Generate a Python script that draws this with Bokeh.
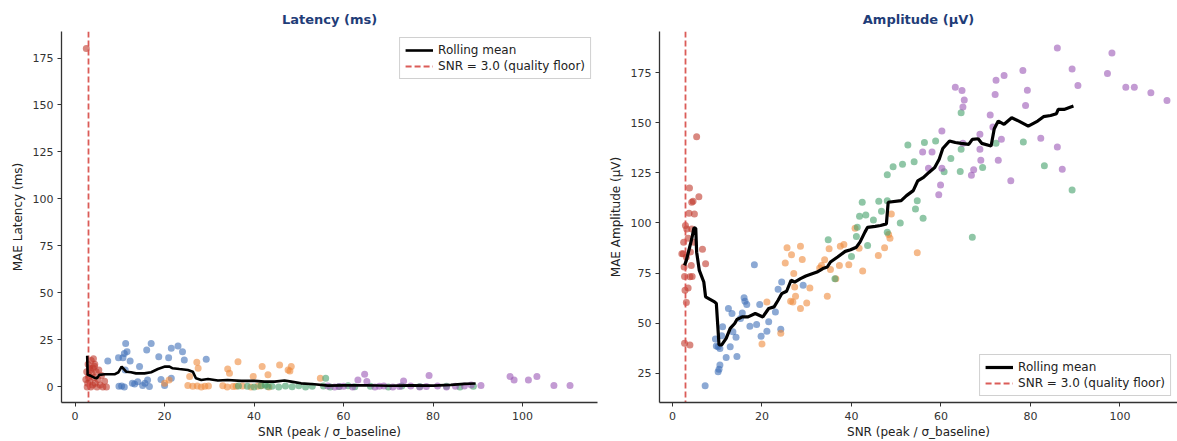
from bokeh.plotting import figure
from bokeh.layouts import row
from bokeh.models import Range1d, FixedTicker, Legend, LegendItem
from bokeh.embed import file_html
from bokeh.resources import INLINE

# ---------------- data ----------------
SNR_FLOOR = 3.0
x_ticks = [0, 20, 40, 60, 80, 100]
lat_y_ticks = [0, 25, 50, 75, 100, 125, 150, 175]
amp_y_ticks = [25, 50, 75, 100, 125, 150, 175]

# Latency panel
lat_red_x = [2.5, 2.4, 2.6, 2.7, 2.8, 2.9, 3.1, 3.2, 3.3, 3.4, 3.5, 3.6, 3.8, 3.9, 4.0, 4.1, 4.2, 4.4, 4.5, 4.7, 4.9, 5.1, 5.3, 5.6, 5.9, 6.2, 6.6, 7.0, 3.0, 4.3]
lat_red_y = [180, 4, 8, 0, 2, 12, 6, 10, 3, 9, 0, 14, 7, 1, 10, 15, 5, 12, 2, 8, 0, 4, 9, 1, 6, 0, 3, 0, 5, 11]
lat_blue_x = [7.3, 9.7, 10.7, 11.3, 11.6, 11.0, 12.3, 16.0, 17.0, 18.7, 20.9, 21.5, 23.0, 24.0, 24.4, 29.3, 14.4, 11.2, 19.2, 21.5, 20.0, 9.8, 10.4, 11.0, 12.8, 13.3, 14.0, 15.1, 15.6, 16.2, 16.6]
lat_blue_y = [13.8, 15.5, 15.5, 23.1, 18.7, 17.8, 13.8, 19.6, 23.1, 16.1, 15.5, 20.5, 21.7, 18.7, 14.3, 14.7, 10.8, 9.0, 4.0, 4.6, 0.7, 0.3, 0.5, 0.0, 2.0, 1.5, 2.8, 0.8, 1.9, 3.7, 0.2]
lat_orange_x = [27.2, 27.5, 34.1, 34.5, 36.4, 41.8, 39.8, 43.1, 45.7, 47.6, 48.3, 54.8, 25.6, 25.2, 26.3, 27.3, 28.2, 29.0, 33.0, 34.0, 35.3, 37.4, 39.3, 40.8, 41.6, 43.3, 21.0, 20.0, 29.8, 48.0, 36.0]
lat_orange_y = [13.1, 9.9, 9.5, 7.2, 13.4, 10.8, 5.5, 6.4, 11.7, 9.0, 10.8, 4.6, 5.5, 0.7, 0.3, 0.5, 0.0, 0.4, 0.6, 0.0, 0.2, 0.5, 0.0, 0.3, 0.6, 0.0, 3.7, 2.0, 0.5, 8.5, 0.3]
lat_green_x = [56.0, 36.5, 38.5, 40.0, 41.5, 43.0, 44.0, 45.5, 47.0, 48.5, 50.0, 51.5, 53.0, 55.5, 57.0, 59.0, 61.0, 62.5, 66.0, 70.0, 73.0, 77.0, 83.0, 86.0, 89.0, 42.5]
lat_green_y = [4.6, 0.5, 0.3, 0.0, 0.6, 0.2, 0.4, 0.0, 0.5, 0.1, 0.6, 0.0, 0.3, 0.5, 0.0, 0.2, 0.6, 0.1, 0.3, 0.0, 0.5, 0.2, 0.4, 0.0, 0.3, 1.0]
lat_purple_x = [56.5, 58.0, 60.0, 62.0, 63.2, 64.7, 65.2, 67.0, 69.0, 71.0, 72.5, 73.4, 75.0, 77.0, 78.5, 79.1, 81.0, 83.0, 85.0, 87.0, 88.5, 90.7, 97.2, 98.1, 101.3, 103.2, 107.0, 110.6, 59.0, 68.0]
lat_purple_y = [0.5, 0.0, 0.3, 0.0, 3.7, 6.7, 2.9, 0.0, 0.5, 0.0, 0.2, 3.2, 0.5, 0.0, 0.2, 6.0, 0.5, 0.0, 0.3, 0.5, 1.0, 0.7, 5.5, 3.7, 3.7, 5.5, 0.7, 0.7, 0.2, 0.4]
lat_roll_x = [2.7, 2.8, 3.4, 4.3, 4.9, 5.4, 6.6, 8.8, 9.7, 10.4, 11.4, 12.5, 13.6, 15.5, 17.0, 18.5, 20.1, 21.1, 21.8, 23.3, 25.2, 26.3, 27.0, 28.2, 29.7, 31.9, 34.1, 37.1, 40.1, 42.3, 44.6, 46.8, 48.3, 50.5, 53.5, 56.5, 60, 65, 70, 75, 80, 84, 87, 89.5]
lat_roll_y = [16.6, 6.4, 6.0, 4.9, 4.6, 6.4, 6.7, 6.7, 7.8, 10.8, 8.1, 7.8, 7.2, 7.2, 7.8, 9.5, 10.8, 10.8, 9.9, 9.5, 9.0, 8.1, 4.6, 3.7, 4.2, 3.4, 3.7, 3.2, 3.2, 2.8, 2.8, 3.4, 2.8, 1.9, 1.4, 0.7, 0.8, 0.9, 0.6, 0.8, 0.7, 1.1, 1.6, 1.8]

# Amplitude panel
amp_red_x = [3.8, 4.3, 5.9, 5.4, 3.7, 4.9, 2.9, 3.2, 2.5, 3.5, 2.4, 4.8, 6.7, 7.4, 4.2, 2.7, 3.9, 4.4, 2.8, 3.5, 3.1, 2.7, 3.9, 2.1, 3.1, 4.0, 4.3, 4.6, 2.6]
amp_red_y = [117.4, 110.3, 113.1, 143.0, 104.8, 104.5, 98.7, 97.0, 90.4, 92.4, 84.6, 90.4, 86.8, 79.6, 78.8, 73.3, 73.2, 73.3, 66.4, 67.5, 60.3, 39.9, 39.1, 84.6, 83.0, 85.5, 97.0, 110.8, 78.0]
amp_blue_x = [7.3, 10.2, 10.4, 10.6, 12.0, 14.4, 9.6, 9.8, 10.2, 10.6, 11.0, 11.2, 12.9, 13.5, 14.2, 12.5, 13.3, 15.6, 16.0, 16.2, 16.6, 17.3, 15.2, 18.3, 18.8, 19.5, 19.8, 21.1, 21.5, 23.0, 23.6, 24.4, 24.2, 29.2]
amp_blue_y = [18.7, 25.8, 27.0, 29.1, 32.8, 33.3, 42.1, 38.6, 38.2, 37.4, 43.7, 48.2, 38.2, 45.7, 42.9, 57.3, 54.8, 55.1, 62.7, 60.9, 59.3, 48.5, 52.3, 79.1, 49.3, 59.3, 43.5, 46.0, 50.7, 55.6, 66.9, 70.5, 46.9, 68.9]
amp_orange_x = [25.6, 25.2, 26.6, 26.4, 27.1, 27.3, 27.5, 26.9, 28.6, 29.0, 28.6, 30.0, 30.7, 21.1, 20.0, 24.2, 32.9, 33.3, 34.0, 34.6, 35.0, 35.3, 36.5, 37.3, 37.5, 38.3, 39.4, 40.8, 41.7, 42.5, 46.0, 47.4, 48.3, 48.6, 48.9, 54.7]
amp_orange_y = [87.6, 80.0, 84.1, 60.9, 74.7, 68.0, 63.4, 60.6, 88.4, 81.8, 57.3, 60.1, 67.5, 60.6, 39.6, 44.9, 77.5, 78.8, 81.6, 63.4, 87.1, 76.8, 72.2, 78.8, 88.4, 89.2, 79.1, 97.3, 87.4, 76.0, 83.8, 87.6, 94.2, 92.4, 104.5, 85.1]
amp_green_x = [34.8, 36.3, 40.0, 41.1, 41.3, 41.8, 42.4, 43.2, 43.6, 44.9, 46.1, 46.7, 48.0, 48.0, 48.0, 49.3, 50.9, 51.4, 52.6, 54.0, 54.3, 54.7, 56.0, 56.3, 58.8, 60.7, 62.2, 64.3, 64.5, 64.5, 67.0, 69.3, 72.3, 78.4, 83.1, 89.3]
amp_green_y = [91.6, 72.2, 83.3, 93.2, 97.8, 103.3, 110.3, 104.0, 88.7, 101.5, 110.8, 105.8, 124.0, 111.1, 95.4, 128.0, 100.0, 129.3, 138.9, 130.5, 107.0, 111.1, 102.3, 140.1, 140.9, 125.5, 132.1, 125.7, 155.0, 136.8, 92.9, 127.6, 139.7, 140.4, 128.5, 116.4]
amp_purple_x = [55.9, 58.0, 57.2, 60.2, 60.2, 59.9, 59.5, 63.2, 64.7, 65.2, 64.9, 64.9, 66.8, 67.3, 68.7, 68.9, 68.7, 71.0, 71.6, 72.1, 72.3, 72.8, 73.5, 74.1, 75.6, 78.3, 78.9, 79.3, 82.3, 86.0, 86.0, 87.1, 89.3, 90.6, 97.2, 98.2, 101.3, 103.2, 106.9, 110.5]
amp_purple_y = [135.4, 135.4, 127.3, 145.9, 127.3, 118.9, 114.1, 167.7, 166.1, 161.3, 157.8, 139.7, 123.8, 126.5, 136.8, 131.3, 144.2, 153.8, 147.8, 164.1, 171.2, 131.3, 141.7, 173.5, 121.0, 176.0, 158.6, 166.2, 142.2, 187.3, 137.9, 126.8, 176.8, 168.5, 174.5, 184.8, 167.7, 167.7, 164.9, 161.1]
amp_roll_x = [2.7, 3.1, 4.3, 4.8, 5.2, 5.4, 6.0, 7.0, 7.4, 9.4, 9.8, 10.4, 11.0, 12.0, 12.9, 13.9, 14.4, 15.6, 16.9, 18.5, 20.2, 21.5, 22.7, 23.6, 24.4, 25.5, 26.5, 27.3, 28.6, 29.8, 32.3, 33.6, 34.6, 35.3, 36.9, 38.6, 39.8, 41.1, 41.9, 43.0, 43.6, 45.3, 46.5, 47.8, 48.2, 51.1, 52.3, 53.8, 54.8, 56.1, 57.3, 58.6, 59.6, 60.4, 61.9, 63.2, 64.5, 66.2, 67.0, 68.3, 69.1, 71.2, 71.9, 72.8, 74.1, 75.8, 77.4, 79.5, 81.6, 82.9, 84.5, 85.8, 86.2, 87.5, 89.6]
amp_roll_y = [78.8, 81.3, 92.0, 97.5, 97.3, 85.4, 76.3, 70.5, 63.1, 60.6, 59.8, 39.1, 39.1, 42.4, 47.4, 49.8, 51.8, 53.1, 53.1, 54.8, 53.1, 57.3, 58.1, 61.4, 64.7, 65.9, 71.4, 70.5, 72.2, 73.5, 75.5, 77.2, 78.0, 80.5, 83.0, 85.8, 86.6, 87.9, 90.4, 95.4, 97.8, 98.3, 98.7, 99.5, 110.3, 111.1, 113.6, 116.1, 121.0, 122.7, 125.2, 127.6, 131.8, 137.1, 140.9, 140.1, 139.7, 139.2, 141.7, 142.0, 139.7, 138.4, 147.0, 150.8, 149.2, 152.5, 150.8, 148.3, 150.8, 153.0, 153.6, 154.5, 156.6, 156.6, 158.3]

# ---------------- styling ----------------
FONT = "DejaVu Sans"
C_RED = "#c0392b"
C_BLUE = "#3f6fb8"
C_ORANGE = "#ee8a3c"
C_GREEN = "#45a06b"
C_PURPLE = "#9b59b6"
C_FLOOR = "#d9534f"
TITLE_COLOR = "#1f3d78"


def make_panel(title, ylab, xr, yr, yticks, width, border_left, border_right,
               groups, roll_x, roll_y, roll_width, legend_loc):
    p = figure(width=width, height=441, x_range=Range1d(*xr), y_range=Range1d(*yr),
               output_backend="svg", toolbar_location=None,
               min_border_left=border_left, min_border_right=border_right,
               min_border_top=31, min_border_bottom=39)
    p.outline_line_color = None
    p.xgrid.visible = False
    p.ygrid.visible = False
    p.title.text = title
    p.title.align = "center"
    p.title.text_font = FONT
    p.title.text_font_size = "13px"
    p.title.text_font_style = "bold"
    p.title.text_color = TITLE_COLOR

    for ax in (p.xaxis[0], p.yaxis[0]):
        ax.axis_line_color = "#333333"
        ax.axis_line_width = 1.3
        ax.major_tick_line_color = "#333333"
        ax.major_tick_in = 0
        ax.major_tick_out = 4
        ax.minor_tick_line_color = None
        ax.major_label_text_font = FONT
        ax.major_label_text_font_size = "11px"
        ax.major_label_text_color = "#333333"
        ax.axis_label_text_font = FONT
        ax.axis_label_text_font_size = "12px"
        ax.axis_label_text_font_style = "normal"
        ax.axis_label_text_color = "#222222"
    p.xaxis[0].major_label_standoff = 5
    p.xaxis[0].axis_label_standoff = 2
    p.yaxis[0].major_label_standoff = 4
    p.yaxis[0].axis_label_standoff = 5
    p.xaxis[0].ticker = FixedTicker(ticks=x_ticks)
    p.yaxis[0].ticker = FixedTicker(ticks=yticks)
    p.xaxis[0].axis_label = "SNR (peak / σ_baseline)"
    p.yaxis[0].axis_label = ylab

    for gx, gy, col in groups:
        p.scatter(gx, gy, size=7, fill_color=col, fill_alpha=0.6, line_color=None)

    floor = p.vspan(x=[SNR_FLOOR], line_color=C_FLOOR, line_width=1.8,
                    line_dash="6 3", line_alpha=0.95)
    roll = p.line(roll_x, roll_y, line_color="black", line_width=roll_width)

    leg = Legend(items=[LegendItem(label="Rolling mean", renderers=[roll]),
                        LegendItem(label="SNR = 3.0 (quality floor)", renderers=[floor])],
                 location=legend_loc)
    leg.label_text_font = FONT
    leg.label_text_font_size = "12px"
    leg.label_text_color = "#222222"
    leg.glyph_width = 28
    leg.glyph_height = 14
    leg.label_height = 14
    leg.spacing = 2
    leg.padding = 5
    leg.margin = 6
    leg.border_line_color = "#d0d0d0"
    leg.border_line_alpha = 1
    leg.background_fill_alpha = 0.85
    p.add_layout(leg)
    return p


p1 = make_panel("Latency (ms)", "MAE Latency (ms)", (-3.04, 116.74), (-8.3, 189.1),
                lat_y_ticks, 600, 61, 3,
                [(lat_red_x, lat_red_y, C_RED), (lat_blue_x, lat_blue_y, C_BLUE),
                 (lat_orange_x, lat_orange_y, C_ORANGE), (lat_green_x, lat_green_y, C_GREEN),
                 (lat_purple_x, lat_purple_y, C_PURPLE)],
                lat_roll_x, lat_roll_y, 2.6, "top_right")

p2 = make_panel("Amplitude (µV)", "MAE Amplitude (µV)", (-2.9, 112.85), (10.4, 195.5),
                amp_y_ticks, 577, 59, 0,
                [(amp_red_x, amp_red_y, C_RED), (amp_blue_x, amp_blue_y, C_BLUE),
                 (amp_orange_x, amp_orange_y, C_ORANGE), (amp_green_x, amp_green_y, C_GREEN),
                 (amp_purple_x, amp_purple_y, C_PURPLE)],
                amp_roll_x, amp_roll_y, 3.2, "bottom_right")

layout = row(p1, p2)
open("out.html", "w").write(file_html(layout, INLINE))
